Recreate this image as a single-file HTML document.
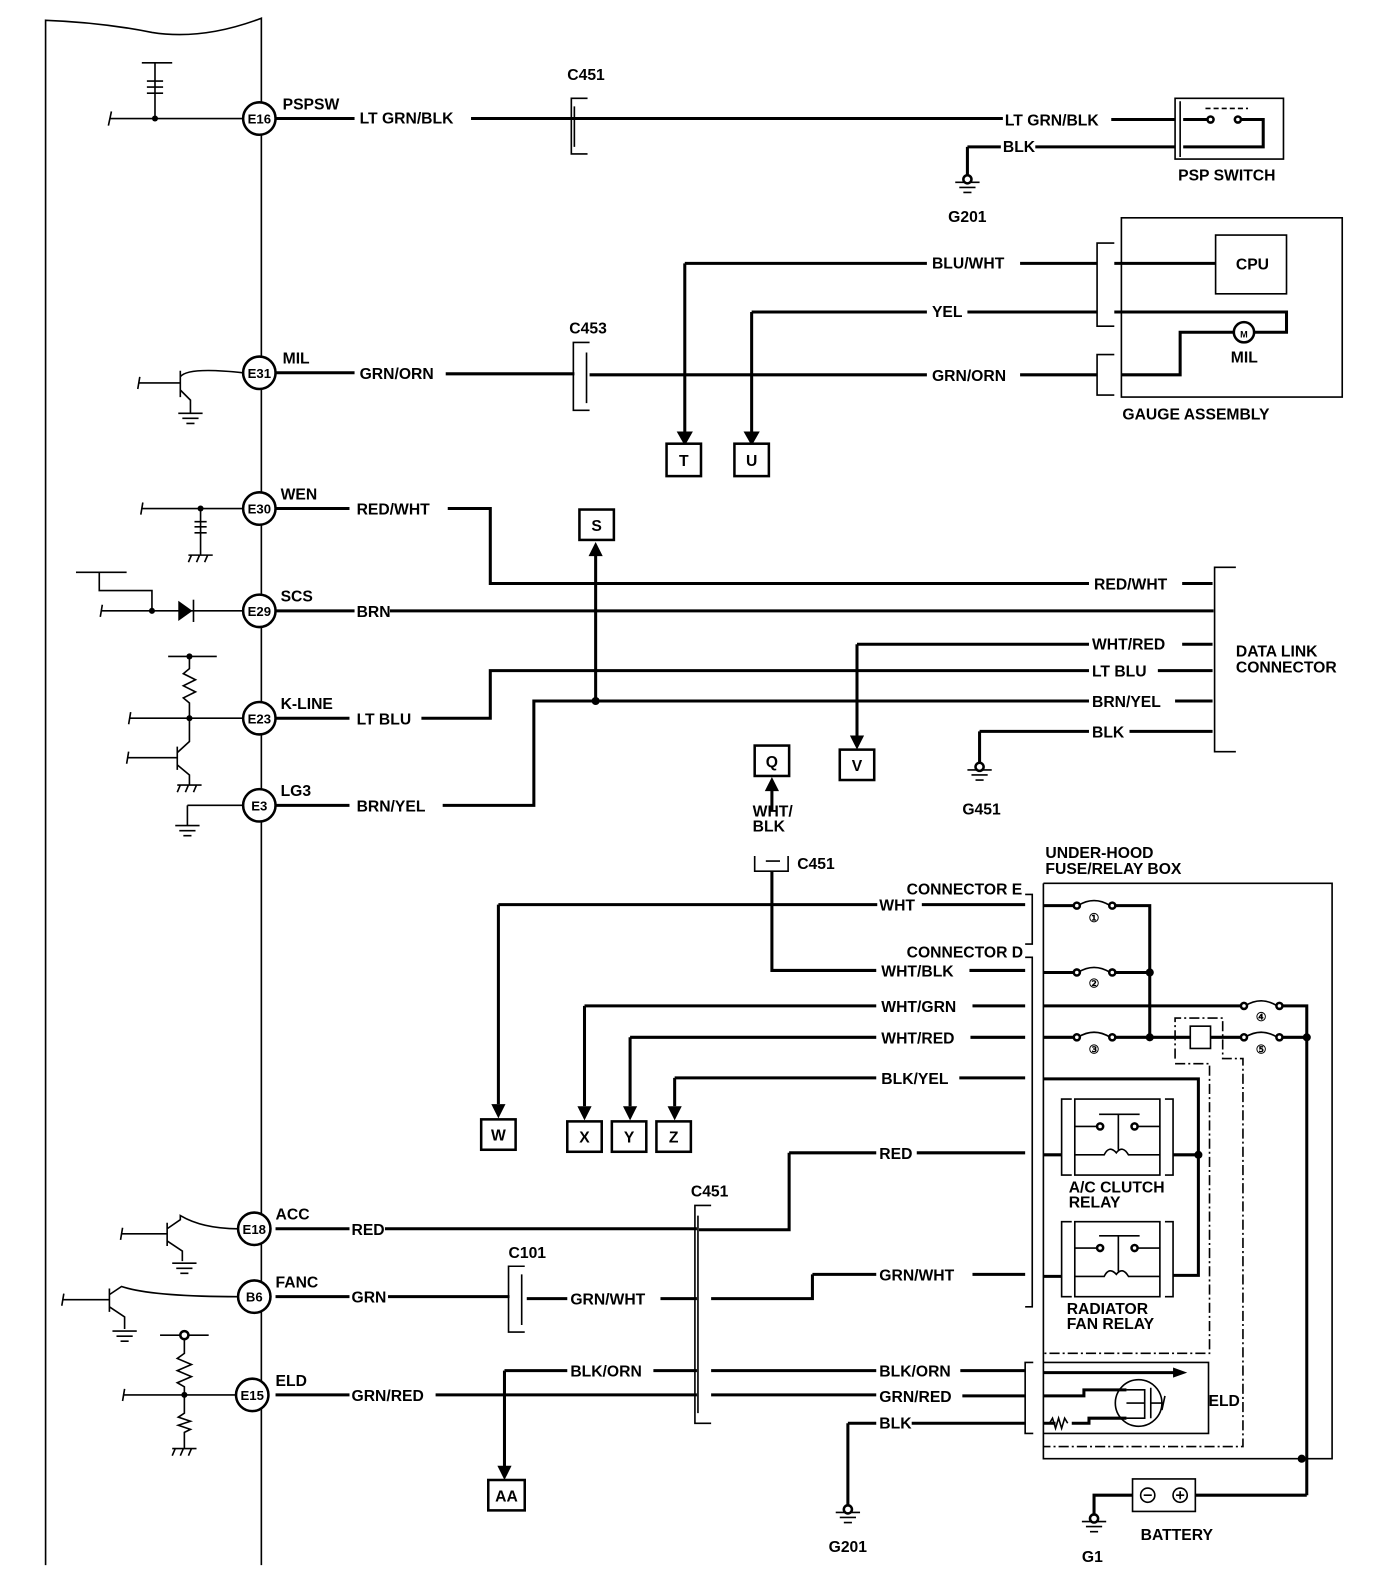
<!DOCTYPE html>
<html><head><meta charset="utf-8"><style>
html,body{margin:0;padding:0;background:#fff;}
svg{display:block;}
text{font-family:"Liberation Sans",sans-serif;font-weight:bold;font-size:15.5px;fill:#000;}
text.p{font-size:13px;}
.w{stroke:#000;stroke-width:3;fill:none;}
.t{stroke:#000;stroke-width:1.6;fill:none;}
.d{stroke:#000;stroke-width:1.6;fill:none;stroke-dasharray:10 3 2 3;}
.b{stroke:#000;stroke-width:2.5;fill:#fff;}
</style></head><body>
<svg width="1392" height="1590" viewBox="0 0 1392 1590" xmlns="http://www.w3.org/2000/svg">
<defs>
<g id="gnd"><path class="t" d="M-12 0H12M-8 5H8M-4 10H4" stroke-width="2"/></g>
<g id="hatch"><path class="t" d="M-12 0H12M-9 0l-3 7M-1 0l-3 7M7 0l-3 7" stroke-width="2"/></g>
</defs>
<g transform="scale(1.013)">
<!-- ECM box -->
<path class="t" d="M45 1545V20Q100 22 150 32Q200 40 258 18V1545" stroke-width="2"/>
<!-- pins -->
<g>
<circle cx="256" cy="117" r="16" class="b"/><text class="p" x="256" y="122" text-anchor="middle">E16</text>
<circle cx="256" cy="368" r="16" class="b"/><text class="p" x="256" y="373" text-anchor="middle">E31</text>
<circle cx="256" cy="502" r="16" class="b"/><text class="p" x="256" y="507" text-anchor="middle">E30</text>
<circle cx="256" cy="603" r="16" class="b"/><text class="p" x="256" y="608" text-anchor="middle">E29</text>
<circle cx="256" cy="709" r="16" class="b"/><text class="p" x="256" y="714" text-anchor="middle">E23</text>
<circle cx="256" cy="795" r="16" class="b"/><text class="p" x="256" y="800" text-anchor="middle">E3</text>
<circle cx="251" cy="1213" r="16" class="b"/><text class="p" x="251" y="1218" text-anchor="middle">E18</text>
<circle cx="251" cy="1280" r="16" class="b"/><text class="p" x="251" y="1285" text-anchor="middle">B6</text>
<circle cx="249" cy="1377" r="16" class="b"/><text class="p" x="249" y="1382" text-anchor="middle">E15</text>
</g>
<text x="279" y="108">PSPSW</text><text x="279" y="359">MIL</text><text x="277" y="493">WEN</text>
<text x="277" y="594">SCS</text><text x="277" y="700">K-LINE</text><text x="277" y="786">LG3</text>
<text x="272" y="1204">ACC</text><text x="272" y="1271">FANC</text><text x="272" y="1368">ELD</text>

<!-- left side internal components -->
<path class="t" d="M108 117H240M110 110l-3 14M153 117V62M140 62H170M145 80h16M145 86h16M145 92h16" stroke-width="2"/>
<circle cx="153" cy="117" r="3"/>
<path class="t" d="M137 378H178M138 372l-2 12M178 366V392M178 372Q185 362 240 368M178 385L188 395V408" stroke-width="2"/>
<use href="#gnd" x="188" y="408"/>
<path class="t" d="M140 502H240M141 496l-2 12M198 502V548M192 515h12M192 520h12M192 526h12" stroke-width="2"/><circle cx="198" cy="502" r="3"/>
<use href="#hatch" x="198" y="548"/>
<path class="t" d="M75 565H125M98 565V583H125M125 583h14M139 583H150V603M100 603H240M101 597l-2 12" stroke-width="2"/>
<path d="M176 593V613L190 603Z"/><path class="t" d="M191 592V614" stroke-width="2"/>
<circle cx="150" cy="603" r="3"/>
<path class="t" d="M166 648H214M187 648V660l-6 5 12 6-12 6 12 6-12 6 6 5V709M128 709H240M129 703l-2 12M126 748H175M127 742l-2 12M175 737V760M175 743L187 732V709M175 755L187 765V775" stroke-width="2"/>
<circle cx="187" cy="709" r="3"/><circle cx="187" cy="648" r="3"/>
<use href="#hatch" x="187" y="775"/>
<path class="t" d="M185 795H240M185 795V815" stroke-width="2"/><use href="#gnd" x="185" y="815"/>
<path class="t" d="M120 1218H165M121 1212l-2 12M165 1207V1230M165 1213L178 1204V1200Q200 1213 235 1213M165 1225L180 1235V1245" stroke-width="2"/>
<use href="#gnd" x="182" y="1247"/>
<path class="t" d="M62 1283H108M63 1277l-2 12M108 1272V1295M108 1278L120 1270Q150 1280 235 1280M108 1290L123 1300V1312" stroke-width="2"/>
<use href="#gnd" x="123" y="1314"/>
<path class="t" d="M122 1377H233M123 1371l-2 12M182 1323V1336l-7 5 14 6-14 6 14 6-14 6 7 4V1377M182 1377V1395l-6 4 12 4-12 4 12 4-6 3V1430M158 1318H206" stroke-width="2"/>
<circle cx="182" cy="1318" r="4" class="b" stroke-width="2"/><circle cx="182" cy="1377" r="3"/>
<use href="#hatch" x="182" y="1430"/>

<!-- E16 wire -->
<path class="w" d="M272 117H350M465 117H990M1097 118H1160M1022 145H1160M955 145H988M955 145V178"/>
<text x="355" y="122">LT GRN/BLK</text><text x="992" y="124">LT GRN/BLK</text><text x="990" y="150">BLK</text>
<path class="t" d="M580 97H564V152H580M567 105V145" stroke-width="2"/><text x="560" y="79">C451</text>
<use href="#gnd" x="955" y="180"/><circle cx="955" cy="177" r="4" class="b" stroke-width="1.5"/>
<text x="936" y="219">G201</text>
<path class="t" d="M1160 97H1267V157H1160ZM1165 100V155" stroke-width="2"/>
<path class="w" d="M1168 118H1192M1225 118H1247V145H1168"/>
<circle cx="1195" cy="118" r="3" class="b" stroke-width="1.5"/><circle cx="1222" cy="118" r="3" class="b" stroke-width="1.5"/>
<path class="t" d="M1190 107H1232" stroke-dasharray="5 3"/>
<text x="1163" y="178">PSP SWITCH</text>

<!-- Gauge -->
<path class="t" d="M1107 215H1325V392H1107Z" stroke-width="2"/>
<path class="t" d="M1200 232H1270V290H1200Z" stroke-width="2"/><text x="1220" y="266">CPU</text>
<path class="w" d="M676 260H915M1007 260H1083M1100 260H1200M742 308H915M955 308H1083M1100 308H1270V328H1238M582 370H915M1007 370H1083M1107 370H1165V328H1218M272 368H350M440 369H567"/>
<path class="w" d="M676 260V428M742 308V428"/>
<path d="M668 426H684L676 440Z"/><path d="M734 426H750L742 440Z"/>
<path class="t" d="M1100 240H1083V322H1100M1100 350H1083V390H1100" stroke-width="2"/>
<circle cx="1228" cy="328" r="10" class="b" stroke-width="2"/><text x="1228" y="333" text-anchor="middle" style="font-size:9px">M</text>
<text x="920" y="265">BLU/WHT</text><text x="920" y="313">YEL</text><text x="920" y="376">GRN/ORN</text>
<text x="355" y="374">GRN/ORN</text><text x="1215" y="358">MIL</text><text x="1108" y="414">GAUGE ASSEMBLY</text>
<path class="t" d="M582 338H566V405H582M579 348V398" stroke-width="2"/><text x="562" y="329">C453</text>
<g class="t" stroke-width="2.5">
<rect x="658" y="438" width="34" height="32" class="b"/><rect x="725" y="438" width="34" height="32" class="b"/>
<rect x="572" y="503" width="34" height="30" class="b"/><rect x="829" y="740" width="34" height="30" class="b"/>
<rect x="745" y="736" width="34" height="30" class="b"/><rect x="475" y="1105" width="34" height="30" class="b"/>
<rect x="560" y="1107" width="34" height="30" class="b"/><rect x="604" y="1107" width="34" height="30" class="b"/>
<rect x="648" y="1107" width="34" height="30" class="b"/><rect x="482" y="1461" width="36" height="30" class="b"/>
</g>
<text x="675" y="460" text-anchor="middle">T</text><text x="742" y="460" text-anchor="middle">U</text>
<text x="589" y="524" text-anchor="middle">S</text><text x="846" y="761" text-anchor="middle">V</text>
<text x="762" y="757" text-anchor="middle">Q</text><text x="492" y="1126" text-anchor="middle">W</text>
<text x="577" y="1128" text-anchor="middle">X</text><text x="621" y="1128" text-anchor="middle">Y</text>
<text x="665" y="1128" text-anchor="middle">Z</text><text x="500" y="1482" text-anchor="middle">AA</text>

<!-- data link -->
<path class="w" d="M272 502H345M442 502H484V576H1075M1167 576H1197M272 603H350M385 603H1198M272 709H345M416 709H484V662H1075M1143 662H1197M272 795H345M437 795H527V692H1075M1160 692H1197M846 636H1075M1167 636H1197M967 722H1075M1115 722H1197M588 692V548M846 636V728M967 722V755"/>
<path d="M581 549H595L588 535Z"/><path d="M839 726H853L846 740Z"/><circle cx="588" cy="692" r="4"/>
<use href="#gnd" x="967" y="760"/><circle cx="967" cy="757" r="4" class="b" stroke-width="1.5"/>
<path class="t" d="M1220 560H1199V742H1220" stroke-width="2"/>
<text x="352" y="508">RED/WHT</text><text x="352" y="609">BRN</text><text x="352" y="715">LT BLU</text><text x="352" y="801">BRN/YEL</text>
<text x="1080" y="582">RED/WHT</text><text x="1078" y="641">WHT/RED</text><text x="1078" y="668">LT BLU</text><text x="1078" y="698">BRN/YEL</text><text x="1078" y="728">BLK</text>
<text x="1220" y="648">DATA LINK</text><text x="1220" y="664">CONNECTOR</text><text x="950" y="804">G451</text>

<!-- lower section -->
<path class="w" d="M762 860V958H865M957 958H1012M762 800V780M492 893H866M910 893H1012M492 893V1090M577 993H865M960 993H1012M577 993V1092M622 1024H865M958 1024H1012M622 1024V1092M666 1064H865M947 1064H1012M666 1064V1092M779 1138H865M905 1138H1012M779 1138V1214H690M802 1258H865M960 1258H1012M802 1258V1282H702M272 1213H345M380 1213H688M272 1280H345M383 1280H503M520 1282H560M652 1282H688M272 1377H345M430 1377H688M702 1377H865M950 1378H1012M498 1353H560M645 1353H688M702 1353H865M948 1353H1012M498 1353V1448M837 1405H865M900 1405H1012M837 1405V1488"/>
<path d="M755 781H769L762 767Z"/><path d="M485 1090H499L492 1104Z"/><path d="M570 1092H584L577 1106Z"/>
<path d="M615 1092H629L622 1106Z"/><path d="M659 1092H673L666 1106Z"/><path d="M491 1447H505L498 1461Z"/>
<path class="t" d="M745 845V860H778V845M756 850H770" stroke-width="2"/>
<text x="743" y="806">WHT/</text><text x="743" y="821">BLK</text><text x="787" y="858">C451</text>
<path class="t" d="M702 1190H686V1405H702M689 1200V1395" stroke-width="2"/><text x="682" y="1181">C451</text>
<path class="t" d="M518 1250H502V1315H518M515 1258V1308" stroke-width="2"/><text x="502" y="1242">C101</text>
<use href="#gnd" x="837" y="1493"/><circle cx="837" cy="1490" r="4" class="b" stroke-width="1.5"/>
<text x="818" y="1532">G201</text>
<text x="868" y="899">WHT</text><text x="870" y="964">WHT/BLK</text><text x="870" y="999">WHT/GRN</text><text x="870" y="1030">WHT/RED</text>
<text x="870" y="1070">BLK/YEL</text><text x="868" y="1144">RED</text><text x="868" y="1264">GRN/WHT</text>
<text x="347" y="1219">RED</text><text x="347" y="1286">GRN</text><text x="563" y="1288">GRN/WHT</text>
<text x="347" y="1383">GRN/RED</text><text x="563" y="1359">BLK/ORN</text><text x="868" y="1359">BLK/ORN</text>
<text x="868" y="1384">GRN/RED</text><text x="868" y="1410">BLK</text>
<text x="895" y="883">CONNECTOR E</text><text x="895" y="945">CONNECTOR D</text>
<text x="1032" y="847">UNDER-HOOD</text><text x="1032" y="863">FUSE/RELAY BOX</text>
<path class="t" d="M1012 883H1019V932H1012M1012 945H1019V1290H1012" stroke-width="2"/>
<!-- fuse box -->
<path class="t" d="M1030 872H1315V1440H1030V872" stroke-width="2"/>
<path class="w" d="M1030 894H1061M1099 894H1135V1024M1030 960H1061M1099 960H1135M1030 993H1226M1264 993H1290V1476M1030 1024H1061M1099 1024H1175M1195 1024H1226M1264 1024H1290"/>
<g class="t" stroke-width="2">
<path d="M1064 894Q1080 884 1096 894M1064 960Q1080 950 1096 960M1064 1024Q1080 1014 1096 1024M1229 993Q1245 983 1261 993M1229 1024Q1245 1014 1261 1024"/>
<circle cx="1063" cy="894" r="3" class="b" stroke-width="2"/><circle cx="1098" cy="894" r="3" class="b" stroke-width="2"/>
<circle cx="1063" cy="960" r="3" class="b" stroke-width="2"/><circle cx="1098" cy="960" r="3" class="b" stroke-width="2"/>
<circle cx="1063" cy="1024" r="3" class="b" stroke-width="2"/><circle cx="1098" cy="1024" r="3" class="b" stroke-width="2"/>
<circle cx="1228" cy="993" r="3" class="b" stroke-width="2"/><circle cx="1263" cy="993" r="3" class="b" stroke-width="2"/>
<circle cx="1228" cy="1024" r="3" class="b" stroke-width="2"/><circle cx="1263" cy="1024" r="3" class="b" stroke-width="2"/>
<rect x="1175" y="1013" width="20" height="22"/>
</g>
<circle cx="1135" cy="960" r="4"/><circle cx="1135" cy="1024" r="4"/><circle cx="1290" cy="1024" r="4"/><circle cx="1285" cy="1440" r="4"/>
<g><text x="1080" y="910" text-anchor="middle" style="font-size:12px">①</text><text x="1080" y="975" text-anchor="middle" style="font-size:12px">②</text>
<text x="1080" y="1040" text-anchor="middle" style="font-size:12px">③</text><text x="1245" y="1008" text-anchor="middle" style="font-size:12px">④</text><text x="1245" y="1040" text-anchor="middle" style="font-size:12px">⑤</text></g>
<path class="d" d="M1160 1045V1005H1207V1045H1227V1428H1030M1160 1050H1194V1336H1030"/>
<!-- relays -->
<path class="w" d="M1030 1065H1183V1259H1158M1030 1140H1048M1158 1140H1183M1030 1260H1048"/>
<circle cx="1183" cy="1140" r="4"/>
<g class="t" stroke-width="2">
<path d="M1058 1085H1048V1160H1058M1150 1085H1158V1160H1150M1061 1085H1145V1160H1061ZM1061 1112H1083M1123 1112H1145M1061 1140H1090Q1095 1130 1102 1138Q1108 1130 1114 1140H1145M1085 1100H1125M1104 1100V1135"/>
<circle cx="1086" cy="1112" r="3" class="b"/><circle cx="1120" cy="1112" r="3" class="b"/>
<path d="M1058 1206H1048V1280H1058M1150 1206H1158V1280H1150M1061 1206H1145V1280H1061ZM1061 1232H1083M1123 1232H1145M1061 1260H1090Q1095 1250 1102 1258Q1108 1250 1114 1260H1145M1085 1220H1125M1104 1220V1255"/>
<circle cx="1086" cy="1232" r="3" class="b"/><circle cx="1120" cy="1232" r="3" class="b"/>
</g>
<text x="1055" y="1177">A/C CLUTCH</text><text x="1055" y="1192">RELAY</text>
<text x="1053" y="1297">RADIATOR</text><text x="1053" y="1312">FAN RELAY</text>
<!-- ELD -->
<path class="t" d="M1020 1345H1012V1415H1020M1030 1345H1193V1415H1030" stroke-width="2"/>
<path class="w" d="M1030 1355H1160M1030 1378H1070V1372H1112M1030 1405H1042M1058 1405H1075V1400H1112"/>
<path d="M1158 1350L1172 1355L1158 1360Z"/>
<path class="t" d="M1036 1405l3-5 3 10 3-10 3 10 3-10 3 5" stroke-width="1.6"/>
<circle cx="1124" cy="1385" r="23" class="t" stroke-width="2"/>
<path class="t" d="M1112 1372H1130V1400H1112M1112 1385H1130M1136 1370V1400M1136 1385H1148M1150 1378l-3 14" stroke-width="2.5"/>
<text x="1193" y="1388">ELD</text>
<!-- battery -->
<path class="t" d="M1118 1460H1180V1492H1118Z" stroke-width="2"/>
<circle cx="1133" cy="1476" r="7" class="t" stroke-width="1.6"/><path class="t" d="M1129 1476h8"/>
<circle cx="1165" cy="1476" r="7" class="t" stroke-width="1.6"/><path class="t" d="M1161 1476h8M1165 1472v8"/>
<path class="w" d="M1180 1476H1290M1118 1476H1080V1497"/>
<use href="#gnd" x="1080" y="1502"/><circle cx="1080" cy="1499" r="4" class="b" stroke-width="1.5"/>
<text x="1126" y="1520">BATTERY</text><text x="1068" y="1542">G1</text>
</g>
</svg>
</body></html>
